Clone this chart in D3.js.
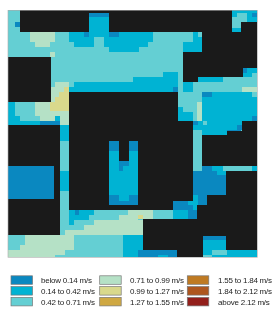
<!DOCTYPE html>
<html><head><meta charset="utf-8">
<script src="https://cdnjs.cloudflare.com/ajax/libs/d3/7.8.5/d3.min.js"></script>
<style>html,body{margin:0;padding:0;background:#fff}svg{display:block;filter:blur(0.35px)}</style></head>
<body><svg id="c" width="276" height="315"></svg>
<script>
const classLabels=["below 0.14 m/s","0.14 to 0.42 m/s","0.42 to 0.71 m/s","0.71 to 0.99 m/s","0.99 to 1.27 m/s","1.27 to 1.55 m/s","1.55 to 1.84 m/s","1.84 to 2.12 m/s","above 2.12 m/s"];
const classColors=["#0a88c0","#00b3d3","#64cfd3","#b5e1c6","#d9d98c","#cfa842","#bf7a22","#ae561e","#931f1b"];
const buildingColor="#1a1a1a";
// raster zones: [x0,y0,x1,y1] in map units
const mapExtent=[24,31,772,772];
const zones042base=[mapExtent];
const zones014=[[268,52,327,125],[208,97,268,125],[222,125,282,140],[312,97,459,125],[312,125,444,140],[327,140,417,155],
[594,83,724,97],[579,97,606,155],[549,125,606,155],[222,245,534,260],[208,260,534,275],[400,232,534,245],[489,215,534,232],
[548,246,579,275],[594,232,668,246],[729,203,772,232],[534,335,579,362],[534,320,549,335],[606,275,772,362],[579,362,726,390],[606,390,682,406],
[180,376,208,424],[180,512,208,572],[328,424,415,614],[208,630,282,644],[208,644,268,660],[208,660,222,675],
[370,706,429,772],[609,720,679,750],[609,750,772,772],[636,498,669,512],[756,498,772,512],
[24,306,45,348],[24,348,60,362],[24,362,120,376],[165,348,180,362],
[697,31,712,52],[712,31,740,38],[740,31,772,66]];
const zones042over=[[282,112,312,125],[594,97,606,111],[756,218,772,232],[608,362,622,376],[756,275,772,290],[636,750,682,765],[609,765,636,772]];
const zones071=[[90,97,164,125],[104,125,150,140],[150,155,164,170],[164,245,208,262],[152,262,192,305],
[104,306,150,333],[104,333,120,348],[120,333,165,362],[165,333,208,348],[180,348,208,376],
[726,260,772,275],[592,305,606,362],[385,630,459,644],[356,644,414,660],[414,644,459,658],[282,660,429,675],[252,675,429,690],[195,690,429,706],
[75,706,222,750],[60,735,222,750],[24,750,195,765],[24,765,165,772]];
const zones099=[[192,260,208,275],[178,275,208,290],[164,290,208,305],[150,305,208,333],[414,644,429,658]];
const zones000=[[45,66,59,80],[268,38,327,52],[252,97,268,111],[327,97,356,111],[519,260,534,275],[729,203,742,218],[756,38,770,52],
[606,275,636,290],[756,348,772,362],[579,362,594,376],[712,376,726,390],[682,390,724,393],
[120,362,180,376],[606,498,636,512],[579,512,679,585],[594,585,622,614],[519,602,579,630],[564,630,592,658],[609,708,679,720],[414,750,532,772],
[224,630,238,644],[328,424,356,452],[386,424,414,452],[356,484,386,498],[356,498,370,512],[328,586,356,602],[386,586,414,602],[328,602,414,614],[24,498,163,598]];
const zones014over=[[652,512,679,526],[564,602,579,616],[579,585,594,630],[519,630,564,658],[474,765,504,772]];
const buildings=[[59,31,268,97],[268,31,327,38],[327,31,697,97],[724,66,772,97],[606,97,772,155],[548,155,772,203],[548,203,729,232],[548,232,594,246],
[24,170,152,306],[208,275,534,362],[208,362,579,424],[208,424,328,630],[414,424,579,602],[356,424,386,484],[328,614,414,630],[414,602,519,630],
[24,376,180,498],[163,498,180,598],[24,598,180,706],
[726,362,772,393],[682,393,772,406],[606,406,772,498],[679,512,772,585],[622,585,772,614],[592,614,772,658],[429,658,772,708],[429,708,609,750],[532,750,609,772],[679,708,772,750]];

const svg=d3.select("#c");
const x=d3.scaleLinear().domain([mapExtent[0],mapExtent[2]]).range([8,257.3]);
const y=d3.scaleLinear().domain([mapExtent[1],mapExtent[3]]).range([10.3,257.3]);
const layers=[[zones042base,classColors[2]],[zones014,classColors[1]],[zones042over,classColors[2]],[zones071,classColors[3]],[zones099,classColors[4]],[zones000,classColors[0]],[zones014over,classColors[1]],[buildings,buildingColor]];
const map=svg.append("g").attr("shape-rendering","crispEdges");
layers.forEach(([zones,color])=>{
  map.append("g").selectAll("rect").data(zones).join("rect")
    .attr("x",d=>x(d[0])).attr("y",d=>y(d[1]))
    .attr("width",d=>x(d[2])-x(d[0])).attr("height",d=>y(d[3])-y(d[1]))
    .attr("fill",color);
});
svg.append("rect").attr("x",x(mapExtent[0])).attr("y",y(mapExtent[1])).attr("width",x(mapExtent[2])-x(mapExtent[0])).attr("height",y(mapExtent[3])-y(mapExtent[1])).attr("fill","none").attr("stroke","#aaa").attr("stroke-width",0.6);

const colX=d3.scaleOrdinal().domain([0,1,2]).range([11,99.7,187.3]);
const rowY=d3.scaleOrdinal().domain([0,1,2]).range([275.8,286.6,297.4]);
const textX=d3.scaleOrdinal().domain([0,1,2]).range([41,130,218]);
const leg=svg.append("g").selectAll("g").data(classLabels).join("g");
leg.append("rect").attr("x",(d,i)=>colX(Math.floor(i/3))).attr("y",(d,i)=>rowY(i%3)).attr("width",21.5).attr("height",8.5)
  .attr("fill",(d,i)=>classColors[i]).attr("stroke","#777").attr("stroke-width",0.7);
leg.append("text").attr("x",(d,i)=>textX(Math.floor(i/3))).attr("y",(d,i)=>rowY(i%3)+7.6).text(d=>d)
  .attr("font-family","Liberation Sans, Arial, sans-serif").attr("font-size",8).attr("letter-spacing",-0.22).attr("fill","#222");
</script></body></html>
